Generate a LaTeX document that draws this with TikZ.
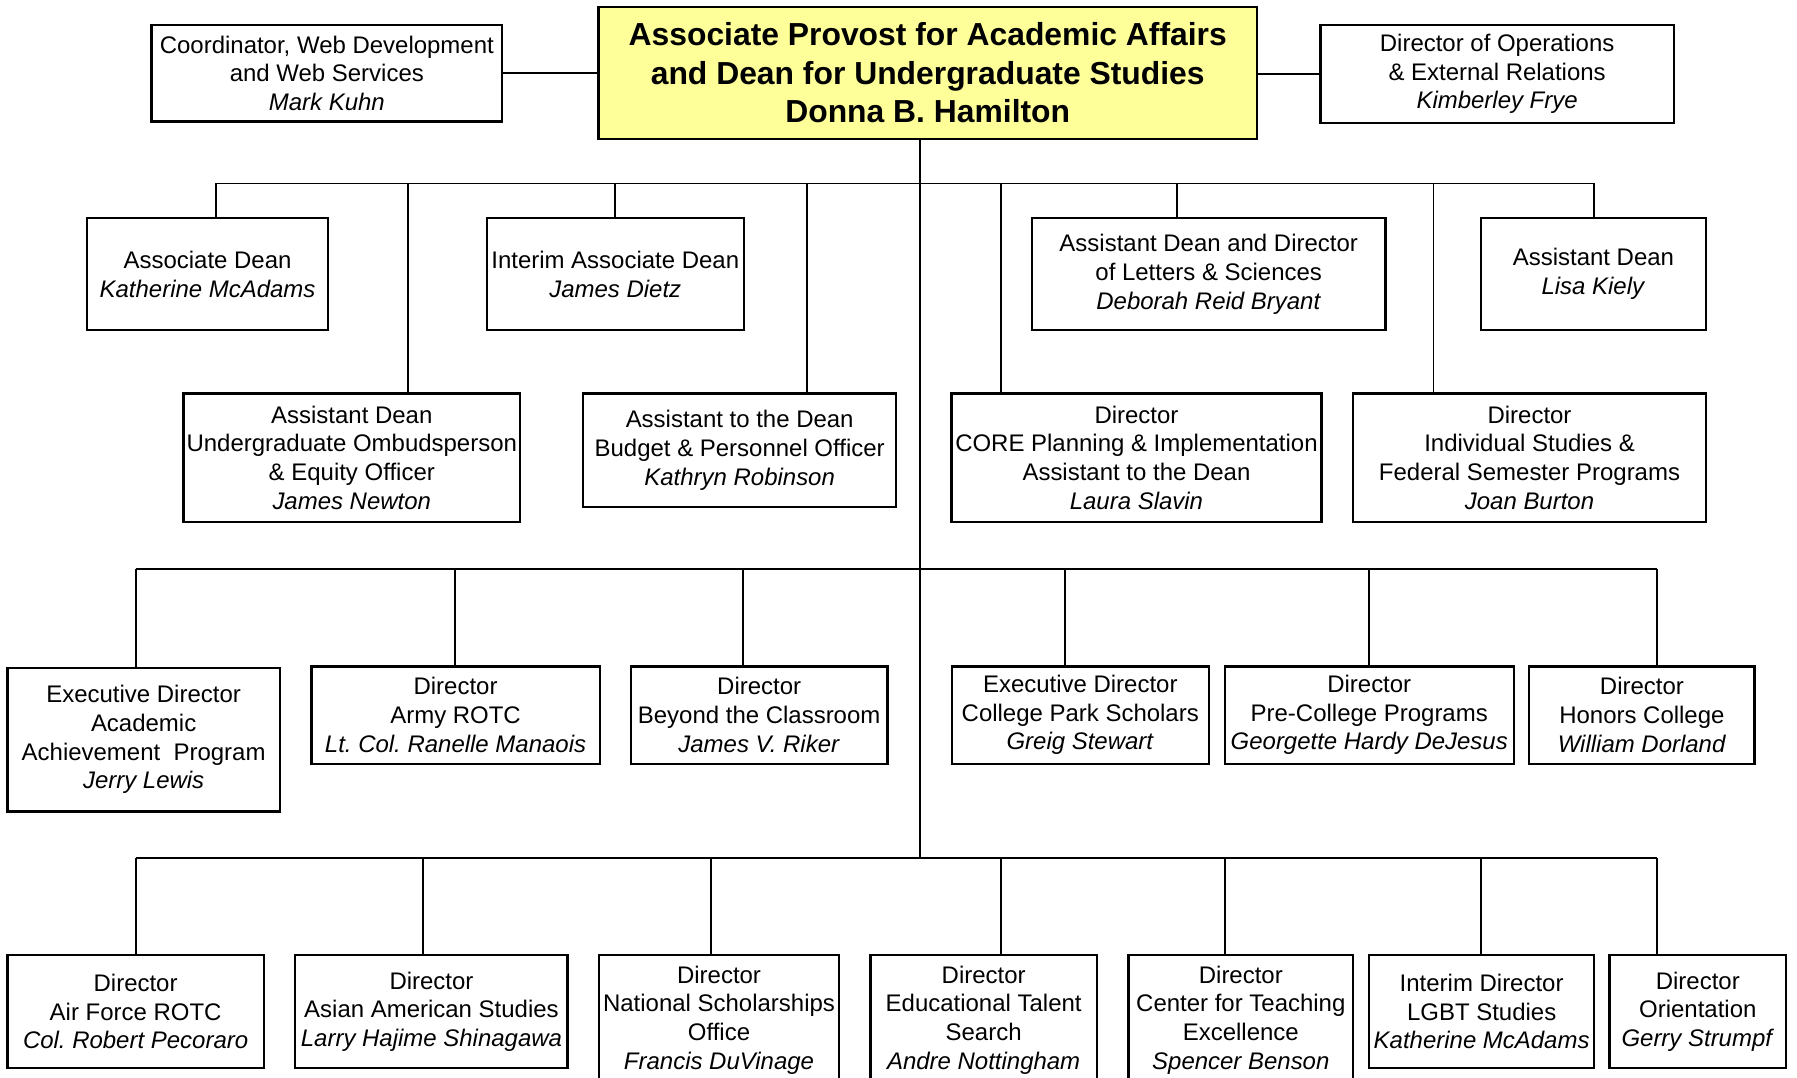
\documentclass[tikz,border=0pt]{standalone}
\usepackage{fontspec}
\setmainfont{Liberation Sans}
\usetikzlibrary{positioning, calc}

\newlength\pxu
\setlength\pxu{0.022936cm}
\definecolor{headyellow}{RGB}{255,255,153}
\frenchspacing

\begin{document}
\begin{tikzpicture}[x=0.022936cm, y=-0.022936cm]
    % --- Style Definitions ---
    \tikzset{
        % Plain office box
        unit box/.style={
            draw=black,
            line width=1.35pt,
            fill=white,
            align=center,
            inner sep=0pt,
            anchor=north,
            font=\fontsize{13.64}{16.33}\selectfont
        },
        % The head office
        head box/.style={
            unit box,
            fill=headyellow,
            font=\fontsize{18.12}{21.8}\selectfont\bfseries
        },
        % Reporting lines
        org line/.style={
            line width=1.1pt,
            black
        }
    }

    % --- Page frame ---
    \useasboundingbox (0,0) rectangle (1567,939.2);
    \fill[white] (0,0) rectangle (1567,939.2);
    \clip (0,0) rectangle (1567,939.2);

    % --- 1. Head and staff offices ---
    \node[head box, minimum width=574\pxu, minimum height=115\pxu] (head) at (809,5)
        {Associate Provost for Academic Affairs\\and Dean for Undergraduate Studies\\Donna B. Hamilton};
    \node[unit box, minimum width=306\pxu, minimum height=84\pxu] (web) at (285,21)
        {Coordinator, Web Development\\and Web Services\\\textit{Mark Kuhn}};
    \node[unit box, minimum width=308\pxu, minimum height=85\pxu] (ops) at (1305.5,21)
        {Director of Operations\\\& External Relations\\\textit{Kimberley Frye}};

    % --- 2. Deans (first bus) ---
    \node[unit box, minimum width=210\pxu, minimum height=98\pxu] (adean) at (181,189)
        {Associate Dean\\\textit{Katherine McAdams}};
    \node[unit box, minimum width=224\pxu, minimum height=98\pxu] (iadean) at (536.5,189)
        {Interim Associate Dean\\\textit{James Dietz}};
    \node[unit box, minimum width=308\pxu, minimum height=98\pxu] (lsdean) at (1054,189)
        {Assistant Dean and Director\\of Letters \& Sciences\\\textit{Deborah Reid Bryant}};
    \node[unit box, minimum width=196\pxu, minimum height=98\pxu] (kiely) at (1389.5,189)
        {Assistant Dean\\\textit{Lisa Kiely}};
    \node[unit box, minimum width=293.5\pxu, minimum height=112\pxu] (ombuds) at (306.75,342)
        {Assistant Dean\\Undergraduate Ombudsperson\\\& Equity Officer\\\textit{James Newton}};
    \node[unit box, minimum width=273\pxu, minimum height=99\pxu] (budget) at (645,342)
        {Assistant to the Dean\\Budget \& Personnel Officer\\\textit{Kathryn Robinson}};
    \node[unit box, minimum width=322.5\pxu, minimum height=112\pxu] (core) at (991,342)
        {Director\\CORE Planning \& Implementation\\Assistant to the Dean\\\textit{Laura Slavin}};
    \node[unit box, minimum width=307.5\pxu, minimum height=112\pxu] (indiv) at (1333.75,342)
        {Director\\Individual Studies \&\\Federal Semester Programs\\\textit{Joan Burton}};

    % --- 3. Programs (second bus) ---
    \node[unit box, minimum width=237.5\pxu, minimum height=125\pxu] (aap) at (125.25,581.5)
        {Executive Director\\Academic\\Achievement~ Program\\\textit{Jerry Lewis}};
    \node[unit box, minimum width=251.5\pxu, minimum height=85\pxu] (army) at (397.25,580)
        {Director\\Army ROTC\\\textit{Lt. Col. Ranelle Manaois}};
    \node[unit box, minimum width=224\pxu, minimum height=85\pxu] (beyond) at (662,580)
        {Director\\Beyond the Classroom\\\textit{James V. Riker}};
    \node[unit box, minimum width=224\pxu, minimum height=85\pxu] (cps) at (942,580)
        {Executive Director\\College Park Scholars\\\textit{Greig Stewart}};
    \node[unit box, minimum width=252\pxu, minimum height=85\pxu] (precol) at (1194,580)
        {Director\\Pre-College Programs\\\textit{Georgette Hardy DeJesus}};
    \node[unit box, minimum width=196.5\pxu, minimum height=85\pxu] (honors) at (1431.75,580)
        {Director\\Honors College\\\textit{William Dorland}};

    % --- 4. Programs (third bus) ---
    \node[unit box, minimum width=223.5\pxu, minimum height=98\pxu] (afrotc) at (118.25,832)
        {Director\\Air Force ROTC\\\textit{Col. Robert Pecoraro}};
    \node[unit box, minimum width=237.5\pxu, minimum height=98\pxu] (asian) at (376.25,832)
        {Director\\Asian American Studies\\\textit{Larry Hajime Shinagawa}};
    \node[unit box, minimum width=209\pxu, minimum height=113\pxu] (natsch) at (627,832)
        {Director\\National Scholarships\\Office\\\textit{Francis DuVinage}};
    \node[unit box, minimum width=197.5\pxu, minimum height=113\pxu] (talent) at (857.75,832)
        {Director\\Educational Talent\\Search\\\textit{Andre Nottingham}};
    \node[unit box, minimum width=196\pxu, minimum height=113\pxu] (teach) at (1082,832)
        {Director\\Center for Teaching\\Excellence\\\textit{Spencer Benson}};
    \node[unit box, minimum width=196\pxu, minimum height=98\pxu] (lgbt) at (1292,832)
        {Interim Director\\LGBT Studies\\\textit{Katherine McAdams}};
    \node[unit box, minimum width=154\pxu, minimum height=98\pxu] (orient) at (1480.5,832)
        {Director\\Orientation\\\textit{Gerry Strumpf}};

    % --- 5. Reporting lines ---
    \draw[org line] (web.east) -- (head.west |- web.east);
    \draw[org line] (head.east |- ops.west) -- (ops.west);

    % Trunk down from the head office
    \coordinate (trunk) at (802,748);
    \draw[org line] (head.south -| trunk) -- (trunk);

    % Bus taps and drops
    \foreach \n/\x in {adean/188.5, ombuds/355.5, iadean/536.5, budget/704,
                       core/872.5, lsdean/1026, indiv/1250, kiely/1390} {
        \coordinate (tap-\n) at (\x,160);
        \draw[org line] (tap-\n) -- (tap-\n |- \n.north);
    }
    \foreach \n/\x in {aap/118.5, army/397, beyond/648, cps/928.5,
                       precol/1194, honors/1445} {
        \coordinate (tap-\n) at (\x,496);
        \draw[org line] (tap-\n) -- (tap-\n |- \n.north);
    }
    \foreach \n/\x in {afrotc/118.5, asian/369, natsch/620, talent/872.5,
                       teach/1068, lgbt/1291.5, orient/1445} {
        \coordinate (tap-\n) at (\x,748);
        \draw[org line] (tap-\n) -- (tap-\n |- \n.north);
    }
    \draw[org line] (tap-adean) -- (tap-kiely);
    \draw[org line] (tap-aap) -- (tap-honors);
    \draw[org line] (tap-afrotc) -- (tap-orient);

\end{tikzpicture}
\end{document}
